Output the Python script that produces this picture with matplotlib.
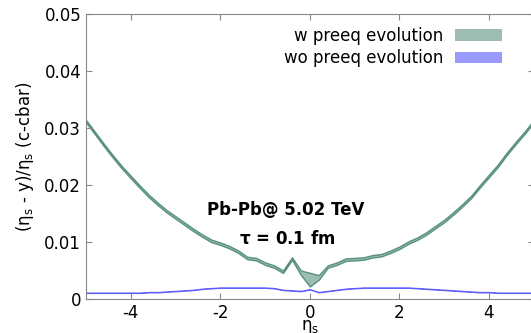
import matplotlib
matplotlib.use('Agg')
import matplotlib.pyplot as plt
import numpy as np
from matplotlib.patches import Patch
from matplotlib.ticker import FuncFormatter

plt.rcParams['axes.unicode_minus'] = False

eta = np.linspace(-5.0, 5.0, 51)

# w preeq evolution (center and half-width of band)
w_mid = [0.0312, 0.0291, 0.0270, 0.0250, 0.0231, 0.0214, 0.0197, 0.0181, 0.0167, 0.0154,
         0.0143, 0.0132, 0.0121, 0.0111, 0.0102, 0.0097, 0.0091, 0.0083, 0.0072, 0.0070,
         0.0062, 0.0057, 0.0048, 0.0071, 0.0046, 0.0034, 0.0038, 0.0057, 0.0062, 0.0069,
         0.0070, 0.0071, 0.0075, 0.0077, 0.0083, 0.0090, 0.0099, 0.0106, 0.0115, 0.0126,
         0.0137, 0.0150, 0.0164, 0.0179, 0.0198, 0.0216, 0.0234, 0.0255, 0.0274, 0.0292,
         0.0312]
w_err = [0.00022] * 24 + [0.0004, 0.0012, 0.0004] + [0.00022] * 24

# wo preeq evolution
wo_mid = [0.0011, 0.0011, 0.0011, 0.0011, 0.0011, 0.0011, 0.0011, 0.0012, 0.0012, 0.0013,
          0.0014, 0.0015, 0.0016, 0.0018, 0.0019, 0.0020, 0.0020, 0.0020, 0.0020, 0.0020,
          0.0020, 0.0019, 0.0016, 0.0015, 0.0014, 0.0017, 0.0012, 0.0014, 0.0016, 0.0018,
          0.0019, 0.0020, 0.0020, 0.0020, 0.0020, 0.0020, 0.0020, 0.0019, 0.0018, 0.0017,
          0.0016, 0.0015, 0.0014, 0.0013, 0.0012, 0.0012, 0.0011, 0.0011, 0.0011, 0.0011,
          0.0011]
wo_err = [0.00006] * 51

w_mid = np.array(w_mid)
w_err = np.array(w_err)
wo_mid = np.array(wo_mid)
wo_err = np.array(wo_err)

green = '#3d7b67'
blue = '#0000ff'

fig = plt.figure(figsize=(5.31, 3.33), dpi=100)
ax = fig.add_axes([0.162, 0.102, 0.8432, 0.856])

ax.fill_between(eta, w_mid - w_err, w_mid + w_err, facecolor=(0.24, 0.48, 0.40, 0.5),
                edgecolor=(0.24, 0.50, 0.41, 0.8), linewidth=1.0)
ax.fill_between(eta, wo_mid - wo_err, wo_mid + wo_err, facecolor=(0, 0, 1, 0.4),
                edgecolor=(0.2, 0.2, 1, 0.7), linewidth=0.7)

ax.set_xlim(-5, 5)
ax.set_ylim(0, 0.05)
ax.set_xticks([-4, -2, 0, 2, 4])
ax.set_yticks([0, 0.01, 0.02, 0.03, 0.04, 0.05])
ax.yaxis.set_major_formatter(FuncFormatter(lambda v, p: '0' if v == 0 else f'{v:.2f}'))
ax.tick_params(direction='in', top=True, right=True, labelsize=12, color='#888888', length=4)
for s in ax.spines.values():
    s.set_color('#888888')

ax.set_xlabel(r'$\mathregular{\eta_s}$', fontsize=12, labelpad=-3)
ax.set_ylabel(r'$\mathregular{(\eta_s}$ - y)/$\mathregular{\eta_s}$ (c-cbar)', fontsize=12,
              labelpad=6)

ax.text(-0.54, 0.0156, 'Pb-Pb@ 5.02 TeV', fontsize=12, fontweight='bold', ha='center', va='center')
ax.text(-0.5, 0.0106, r'$\mathregular{\tau}$ = 0.1 fm', fontsize=12, fontweight='bold',
        ha='center', va='center')

handles = [Patch(facecolor=green, alpha=0.5, linewidth=0),
           Patch(facecolor=blue, alpha=0.4, linewidth=0)]
ax.legend(handles, ['w preeq evolution', 'wo preeq evolution'], loc='upper right',
          bbox_to_anchor=(0.944, 0.979), frameon=False, markerfirst=False, fontsize=12,
          handlelength=2.8, handletextpad=0.7, labelspacing=0.28, borderaxespad=0)

fig.savefig('out.png', dpi=100)
